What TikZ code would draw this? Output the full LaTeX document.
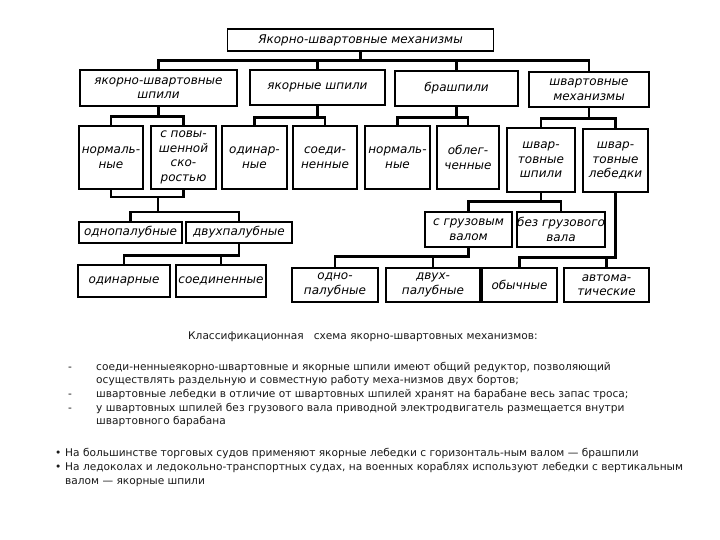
\documentclass[tikz,border=0pt]{standalone}
\usepackage{fontspec}
\setmainfont{DejaVu Sans}
\newfontfamily\boxfont{DejaVu Sans}
\begin{document}
\begin{tikzpicture}[x=1pt,y=-1pt,
  box/.style={draw, line width=1.1pt, inner sep=0pt, align=center,
    font=\boxfont\itshape\fontsize{12}{14.5}\selectfont},
  conn/.style={line width=2.3pt},
  txt/.style={anchor=base west, inner sep=0pt, font=\fontsize{10.6}{12}\selectfont, text=black!90}]
\useasboundingbox (0,0) rectangle (720,540);
\fill[white] (0,0) rectangle (720,540);

% top
\node[box, minimum width=266pt, minimum height=22pt] (T) at (360.5,40) {Якорно-швартовные механизмы};

% row 2
\node[box, minimum width=157pt, minimum height=36pt] (A1) at (158.5,88) {якорно-швартовные\\шпили};
\node[box, minimum width=135pt, minimum height=35pt] (A2) at (317.5,87.5) {якорные шпили};
\node[box, minimum width=123pt, minimum height=35pt] (A3) at (456.5,88.5) {брашпили};
\node[box, minimum width=120pt, minimum height=35pt] (A4) at (589,89.5) {швартовные\\механизмы};

% row 3
\node[box, minimum width=64pt, minimum height=63pt] (B1) at (111,157.5) {нормаль-\\ные};
\node[box, minimum width=65pt, minimum height=63pt] (B2) at (183.5,157.5) {с повы-\\шенной\\ско-\\ростью};
\node[box, minimum width=65pt, minimum height=63pt] (B3) at (254.5,157.5) {одинар-\\ные};
\node[box, minimum width=64pt, minimum height=63pt] (B4) at (325,157.5) {соеди-\\ненные};
\node[box, minimum width=65pt, minimum height=63pt] (B5) at (397.5,157.5) {нормаль-\\ные};
\node[box, minimum width=62pt, minimum height=63pt] (B6) at (468,157.5) {облег-\\ченные};
\node[box, minimum width=68pt, minimum height=64pt] (B7) at (541,160) {швар-\\товные\\шпили};
\node[box, minimum width=65pt, minimum height=63pt] (B8) at (615.5,160.5) {швар-\\товные\\лебедки};

% row 4
\node[box, minimum width=103pt, minimum height=21pt] (C1) at (130.5,232.5) {однопалубные};
\node[box, minimum width=106pt, minimum height=21pt] (C2) at (239,232.5) {двухпалубные};
\node[box, minimum width=87pt, minimum height=35pt] (C3) at (468.5,229.5) {с грузовым\\валом};
\node[box, minimum width=88pt, minimum height=35pt] (C4) at (561,229.5) {без грузового\\вала};

% row 5
\node[box, minimum width=92pt, minimum height=32pt] (D1) at (124,281) {одинарные};
\node[box, minimum width=90pt, minimum height=32pt] (D2) at (221,281) {соединенные};
\node[box, minimum width=86pt, minimum height=34pt] (D3) at (335,285) {одно-\\палубные};
\node[box, minimum width=94pt, minimum height=34pt] (D4) at (433,285) {двух-\\палубные};
\node[box, minimum width=75pt, minimum height=34pt] (D5) at (519.5,285) {обычные};
\node[box, minimum width=85pt, minimum height=34pt] (D6) at (606.5,285) {автома-\\тические};

% connectors
\foreach \c in {A1,A2,A3,A4} \draw[conn] (T.south) -- ++(0,9) -| (\c.north);
\foreach \c in {B1,B2} \draw[conn] (A1.south) -- ++(0,10) -| (\c.north);
\foreach \c in {B3,B4} \draw[conn] (A2.south) -- ++(0,12) -| (\c.north);
\foreach \c in {B5,B6} \draw[conn] (A3.south) -- ++(0,11) -| (\c.north);
\foreach \c in {B7,B8} \draw[conn] (A4.south) -- ++(0,11) -| (\c.north);

\coordinate (j1) at (158,197);
\draw[conn] (B1.south) |- (j1) -| (B2.south);
\foreach \c in {C1,C2} \draw[conn] (j1) -- ++(0,15) -| (\c.north);
\foreach \c in {D1,D2} \draw[conn] (C2.south) -- ++(0,12) -| (\c.north);
\foreach \c in {C3,C4} \draw[conn] (B7.south) -- ++(0,9) -| (\c.north);
\foreach \c in {D3,D4} \draw[conn] (C3.south) -- ++(0,9) -| (\c.north);
\foreach \c in {D5,D6} \draw[conn] (B8.south) -- ++(0,65) -| (\c.north);

% text below
\node[txt] (cap) at (188,339) {Классификационная \ \ схема якорно-швартовных механизмов:};
\node[txt] (d1) at (68,370) {-};
\node[txt] (l1) at (96,370) {соеди-ненныеякорно-швартовные и якорные шпили имеют общий редуктор, позволяющий};
\node[txt] (l2) at (96,383.5) {осуществлять раздельную и совместную работу меха-низмов двух бортов;};
\node[txt] (d2) at (68,397) {-};
\node[txt] (l3) at (96,397) {швартовные лебедки в отличие от швартовных шпилей хранят на барабане весь запас троса;};
\node[txt] (d3) at (68,411) {-};
\node[txt] (l4) at (96,411) {у швартовных шпилей без грузового вала приводной электродвигатель размещается внутри};
\node[txt] (l5) at (96,424.5) {швартовного барабана};
\node[txt] (b1) at (55,456) {•};
\node[txt] (l6) at (65,456) {На большинстве торговых судов применяют якорные лебедки с горизонталь-ным валом — брашпили};
\node[txt] (b2) at (55,470.5) {•};
\node[txt] (l7) at (65,470.5) {На ледоколах и ледокольно-транспортных судах, на военных кораблях используют лебедки с вертикальным};
\node[txt] (l8) at (65,484.5) {валом — якорные шпили};
\end{tikzpicture}
\end{document}
